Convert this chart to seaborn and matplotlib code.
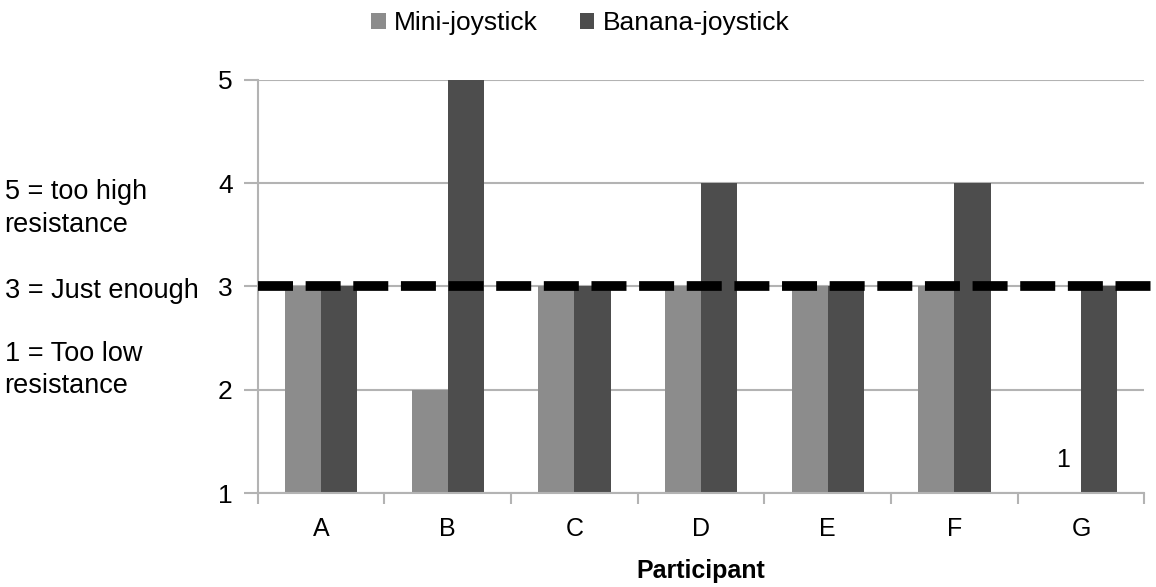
import pandas as pd
import seaborn as sns
import matplotlib.pyplot as plt

participants = ['A', 'B', 'C', 'D', 'E', 'F', 'G']
mini = [3, 2, 3, 3, 3, 3, 1]
banana = [3, 5, 3, 4, 3, 4, 3]
series = ['Mini-joystick', 'Banana-joystick']
colors = ['#8c8c8c', '#4d4d4d']

df = pd.DataFrame({
    'Participant': participants * 2,
    'score': mini + banana,
    'device': [series[0]] * len(mini) + [series[1]] * len(banana),
})

sns.set_style('white')
plt.rcParams['font.family'] = ['Liberation Sans', 'DejaVu Sans']
plt.rcParams['text.color'] = 'black'
plt.rcParams['xtick.labelcolor'] = 'black'
plt.rcParams['ytick.labelcolor'] = 'black'

fig = plt.figure(figsize=(11.56, 5.87), dpi=100)
ax = fig.add_axes([0.223, 0.160, 0.767, 0.704])

sns.barplot(data=df, x='Participant', y='score', hue='device',
            palette=colors, width=0.57, saturation=1, linewidth=0,
            ax=ax, zorder=2)

ax.set_ylim(1, 5)
ax.set_xlim(-0.5, 6.5)
ax.set_yticks([1, 2, 3, 4, 5])
ax.yaxis.grid(True, color='#b3b3b3', lw=1.5, zorder=0)
ax.set_axisbelow(True)
for s in ['top', 'right']:
    ax.spines[s].set_visible(False)
for s in ['left', 'bottom']:
    ax.spines[s].set_color('#b3b3b3')
    ax.spines[s].set_linewidth(1.5)

ax.set_xticks([i + 0.5 for i in range(-1, 7)], minor=True)
ax.tick_params(axis='x', which='major', length=0, labelsize=18, pad=17)
ax.tick_params(axis='x', which='minor', length=8, width=1.5, color='#b3b3b3', direction='out', bottom=True)
ax.tick_params(axis='y', length=10, width=1.5, color='#b3b3b3', direction='out', left=True, labelsize=19, pad=8)
ax.set_xlabel('Participant', fontsize=18, fontweight='bold', labelpad=13, color='black')
ax.set_ylabel('')

ax.axhline(3, xmax=1.01, color='black', lw=7, dashes=(3.6, 1.3), zorder=5, clip_on=False)

ax.text(6 - 0.14, 1.2, str(mini[6]), ha='center', va='bottom', fontsize=18)

fig.text(0.004, 0.645, '5 = too high\nresistance', fontsize=19.5, va='center', linespacing=1.32)
fig.text(0.004, 0.505, '3 = Just enough', fontsize=19.5, va='center')
fig.text(0.004, 0.37, '1 = Too low\nresistance', fontsize=19.5, va='center', linespacing=1.32)

leg = ax.legend(loc='center', bbox_to_anchor=(0.502, 0.961), bbox_transform=fig.transFigure,
                ncol=2, frameon=False, fontsize=19, handlelength=0.55, handleheight=0.55,
                handletextpad=0.3, columnspacing=1.6)

fig.savefig('out.png', dpi=100)
